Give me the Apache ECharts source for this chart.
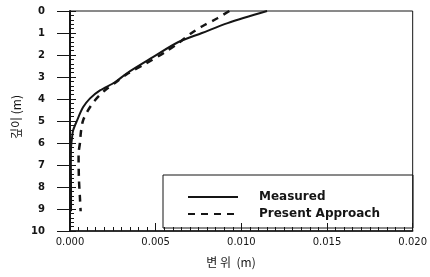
<!DOCTYPE html>
<html><head><meta charset="utf-8">
<script src="https://cdn.jsdelivr.net/npm/echarts@6/dist/echarts.min.js"></script>
<style>html,body{margin:0;padding:0;background:#fff}#c{width:430px;height:277px}</style>
</head><body><div id="c"></div>
<script>
// Depth (m) and displacement (m)
const measuredDepth = [0, 0.55, 1.0, 1.42, 2.1, 2.83, 3.24, 3.61, 3.97, 4.38, 4.98, 5.43, 5.75, 6.2, 7.0, 8.0, 9.1];
const measuredDisp  = [0.0115, 0.0092, 0.0077, 0.0063, 0.00484, 0.00332, 0.00262, 0.00175, 0.00117, 0.00076, 0.00041, 0.00018, 0.00012, 0.00006, 0.00005, 0.00006, 0.00006];
const approachDepth = [0, 0.33, 0.68, 1.0, 1.42, 1.87, 2.4, 2.83, 3.24, 3.6, 4.06, 4.52, 4.98, 5.48, 6.0, 6.5, 7.6, 8.5, 9.1];
const approachDisp  = [0.0093, 0.0086, 0.00775, 0.0071, 0.0064, 0.00555, 0.0044, 0.0034, 0.00268, 0.00204, 0.00146, 0.00105, 0.00076, 0.00064, 0.00058, 0.0005, 0.00052, 0.00058, 0.00062];
const seriesNames = ['Measured', 'Present Approach'];
const xTitle = '변 위  (m)';
const yTitle = '깊이 (m)';

const chart = echarts.init(document.getElementById('c'), null, {renderer: 'canvas'});
const ink = '#151515';
const pair = (xs, ys) => xs.map((x, i) => [x, ys[i]]);
chart.setOption({
  animation: false,
  backgroundColor: '#fff',
  grid: {left: 70, right: 17, top: 11, bottom: 46, show: true, borderColor: ink, borderWidth: 1},
  xAxis: {
    type: 'value', min: 0, max: 0.02, interval: 0.005, position: 'bottom',
    axisLine: {show: true, onZero: false, lineStyle: {color: ink, width: 1.5}},
    axisTick: {show: true, inside: true, length: 8, lineStyle: {color: ink}},
    minorTick: {show: true, splitNumber: 10, length: 4, lineStyle: {color: ink}},
    splitLine: {show: false},
    axisLabel: {formatter: v => v.toFixed(3), margin: 6, fontSize: 10, color: ink, fontFamily: 'DejaVu Sans'}
  },
  yAxis: [{
    type: 'value', inverse: true, min: 0, max: 10, interval: 1, position: 'left',
    axisLine: {show: true, onZero: false, lineStyle: {color: ink, width: 2}},
    axisTick: {show: true, inside: false, length: 13, lineStyle: {color: ink}},
    splitLine: {show: false},
    axisLabel: {margin: 25, fontSize: 10, fontWeight: 'bold', color: ink, fontFamily: 'DejaVu Sans'}
  }, {
    type: 'value', inverse: true, min: 0, max: 10, interval: 1, position: 'left', offset: 0,
    axisLine: {show: false, onZero: false},
    axisTick: {show: true, inside: true, length: 6, lineStyle: {color: ink}},
    minorTick: {show: true, splitNumber: 5, length: 4, lineStyle: {color: ink}},
    splitLine: {show: false},
    axisLabel: {show: false}
  }],
  legend: {
    data: seriesNames, orient: 'vertical', left: 182, top: 186,
    itemWidth: 50, itemHeight: 14, itemGap: 5,
    itemStyle: {opacity: 0},
    textStyle: {fontSize: 12, fontWeight: 'bold', color: ink, fontFamily: 'DejaVu Sans', padding: [0, 0, 0, 16]}
  },
  graphic: [
    {type: 'rect', shape: {x: 163, y: 175, width: 250, height: 53}, style: {fill: 'none', stroke: ink, lineWidth: 1}, z: 10},
    {type: 'text', x: 231, y: 262, style: {text: xTitle, font: '12px "Noto Sans CJK KR"', fill: ink, textAlign: 'center', textVerticalAlign: 'middle'}},
    {type: 'text', x: 16, y: 117, rotation: Math.PI / 2, style: {text: yTitle, font: '12px "Noto Sans CJK KR"', fill: ink, textAlign: 'center', textVerticalAlign: 'middle'}}
  ],
  series: [{
    name: seriesNames[0], type: 'line', yAxisIndex: 0, data: pair(measuredDisp, measuredDepth),
    symbol: 'none', smooth: 0.3, lineStyle: {color: ink, width: 2}, itemStyle: {color: ink}
  }, {
    name: seriesNames[1], type: 'line', yAxisIndex: 0, data: pair(approachDisp, approachDepth),
    symbol: 'none', smooth: 0.3, lineStyle: {color: ink, width: 2.5, type: [7, 6]}, itemStyle: {color: ink}
  }]
});
</script></body></html>
